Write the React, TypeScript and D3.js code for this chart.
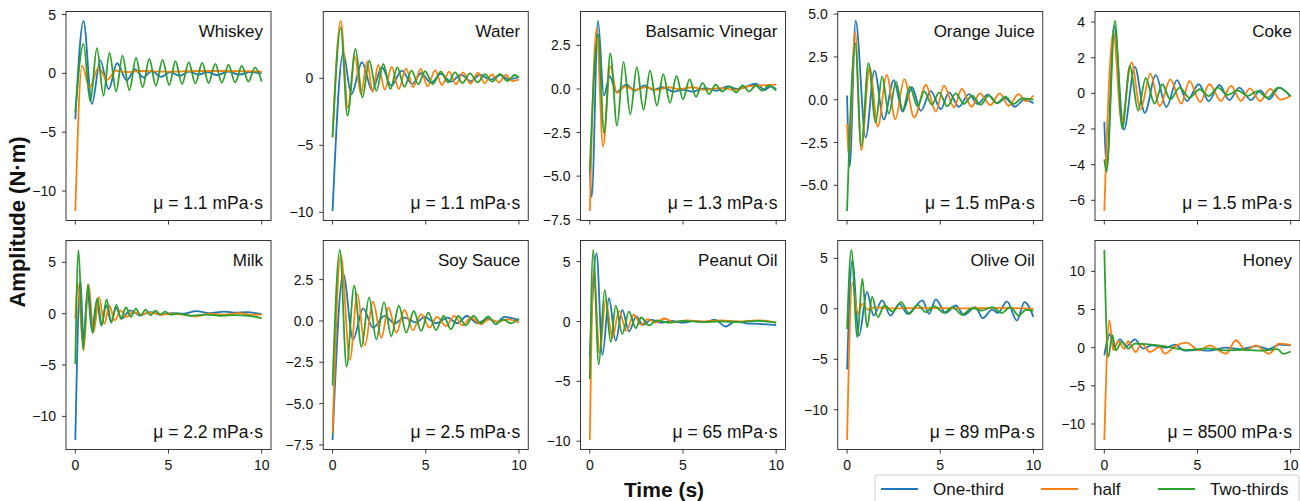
import React from "react";
import * as d3 from "d3";

type Pt = [number, number];

// series colours / names (matplotlib tab10)
const seriesNames = ["One-third", "half", "Two-thirds"];
const seriesColors = ["#1f77b4", "#ff7f0e", "#2ca02c"];
const xTicks = [0, 5, 10];

// [time, amplitude] turning points
const whiskeyOneThird: Pt[] = [[0,-3.9],[0.44,4.45],[0.89,-2.6],[1.34,1.1],[1.79,-1.35],[2.24,0.86],[2.76,-0.6],[3.2,0.35],[3.65,-0.35],[4.1,0.2],[4.6,-0.3],[5.1,0.1],[5.6,-0.2],[6.1,0.15],[6.6,-0.1],[7.1,0.1],[7.6,-0.15],[8.2,0.15],[8.8,-0.1],[9.4,0.1],[10,0.0]];
const whiskeyHalf: Pt[] = [[0,-11.7],[0.36,0.66],[0.77,-1.2],[1.25,0.5],[1.69,-0.57],[2.19,0.23],[2.7,0.1],[3.5,0.2],[5,0.15],[6.5,0.2],[8,0.2],[10,0.15]];
const whiskeyTwoThirds: Pt[] = [[0,-3.3],[0.44,2.5],[0.8,-2.4],[1.16,2.14],[1.51,-1.9],[1.83,1.74],[2.19,-1.54],[2.53,1.51],[2.9,-1.43],[3.26,1.31],[3.61,-1.2],[3.97,1.23],[4.32,-1.06],[4.68,1.14],[5.04,-1.0],[5.37,1.03],[5.73,-0.91],[6.09,0.94],[6.44,-0.86],[6.81,0.89],[7.15,-0.83],[7.51,0.8],[7.86,-0.8],[8.22,0.71],[8.58,-0.77],[8.93,0.63],[9.29,-0.71],[9.64,0.51],[10,-0.69]];

const waterOneThird: Pt[] = [[0,-9.9],[0.57,1.9],[1.01,-1.18],[1.58,1.2],[2.12,-0.88],[2.65,0.83],[3.15,-0.55],[3.72,0.58],[4.27,-0.43],[4.75,0.38],[5.28,-0.33],[5.82,0.33],[6.35,-0.25],[6.89,0.28],[7.42,-0.22],[7.92,0.28],[8.45,-0.12],[8.99,0.25],[9.47,-0.08],[10,0.1]];
const waterHalf: Pt[] = [[0,-4.4],[0.44,4.28],[0.82,-2.2],[1.2,1.6],[1.52,-1.2],[1.85,1.25],[2.15,-1.0],[2.45,1.0],[2.8,-0.85],[3.17,0.85],[3.55,-0.8],[3.94,0.75],[4.33,-0.65],[4.72,0.7],[5.1,-0.6],[5.5,0.6],[5.87,-0.5],[6.25,0.5],[6.62,-0.45],[7.0,0.45],[7.4,-0.4],[7.8,0.4],[8.17,-0.35],[8.55,0.3],[8.92,-0.3],[9.3,0.25],[9.65,-0.2],[10,-0.1]];
const waterTwoThirds: Pt[] = [[0,-4.4],[0.44,3.78],[0.8,-2.8],[1.23,2.2],[1.6,-1.43],[1.97,1.32],[2.35,-0.93],[2.72,1.07],[3.1,-0.8],[3.47,0.82],[3.85,-0.63],[4.24,0.57],[4.6,-0.45],[4.96,0.53],[5.38,-0.43],[5.8,0.5],[6.2,-0.3],[6.57,0.45],[6.97,-0.35],[7.37,0.37],[7.78,-0.3],[8.18,0.32],[8.58,-0.25],[8.98,0.32],[9.38,-0.2],[9.79,0.25],[10,0.05]];

const balsamicOneThird: Pt[] = [[0,-4.6],[0.1,-6.2],[0.44,3.9],[0.75,-0.37],[1.07,0.73],[1.42,-0.17],[1.96,0.25],[2.4,-0.1],[2.94,0.2],[3.4,-0.05],[3.9,0.1],[4.5,-0.15],[5.0,-0.05],[5.5,-0.15],[6.2,0.05],[6.8,-0.1],[7.4,0.15],[7.9,0.0],[8.3,0.1],[8.9,0.3],[9.4,-0.05],[9.7,0.15],[10,0.0]];
const balsamicHalf: Pt[] = [[0,-7.0],[0.36,3.48],[0.71,-3.3],[1.1,1.3],[1.46,-0.23],[1.9,0.15],[2.4,-0.05],[3.0,0.1],[3.6,-0.05],[4.2,0.1],[4.8,0.0],[5.5,0.1],[6.2,-0.05],[7.0,0.05],[7.8,-0.05],[8.5,0.15],[9.2,0.2],[10,0.25]];
const balsamicTwoThirds: Pt[] = [[0,-4.6],[0.44,3.13],[0.77,-2.54],[1.1,2.04],[1.46,-2.1],[1.81,1.56],[2.17,-1.45],[2.52,1.25],[2.88,-1.2],[3.23,1.05],[3.6,-0.95],[3.94,0.85],[4.3,-0.8],[4.65,0.75],[5.0,-0.6],[5.35,0.55],[5.7,-0.45],[6.05,0.35],[6.4,-0.3],[6.75,0.25],[7.1,-0.15],[7.5,0.15],[7.85,-0.2],[8.2,0.2],[8.55,-0.15],[8.9,0.2],[9.25,-0.1],[9.6,0.2],[10,-0.1]];

const ojOneThird: Pt[] = [[0,0.25],[0.14,-3.9],[0.46,4.6],[1.0,-2.2],[1.47,1.7],[1.97,-1.15],[2.5,1.15],[2.98,-0.7],[3.48,0.73],[3.96,-0.65],[4.49,0.5],[5.03,-0.55],[5.47,0.43],[6.0,-0.41],[6.54,0.33],[7.0,-0.25],[7.55,0.3],[8.05,-0.2],[8.5,0.08],[9.0,-0.41],[9.5,0.0],[10,-0.2]];
const ojHalf: Pt[] = [[0,-1.4],[0.09,-3.2],[0.43,3.96],[0.76,-2.96],[1.21,1.9],[1.65,-1.57],[2.13,1.45],[2.59,-1.14],[3.07,1.2],[3.6,-1.04],[4.23,0.86],[4.76,-0.69],[5.2,0.82],[5.74,-0.45],[6.15,0.63],[6.68,-0.41],[7.12,0.37],[7.69,-0.31],[8.19,0.37],[8.67,-0.35],[9.2,0.33],[9.6,-0.1],[10,0.25]];
const ojTwoThirds: Pt[] = [[0,-6.5],[0.44,3.27],[0.76,-2.7],[1.15,2.14],[1.53,-1.33],[1.88,1.35],[2.24,-0.8],[2.63,1.06],[2.98,-0.6],[3.37,0.76],[3.78,-0.39],[4.14,0.49],[4.55,-0.29],[4.94,0.43],[5.38,-0.39],[5.83,0.37],[6.27,-0.25],[6.71,0.24],[7.16,-0.29],[7.6,0.24],[8.05,-0.2],[8.49,0.18],[8.93,-0.25],[9.38,0.08],[10,0.0]];

const cokeOneThird: Pt[] = [[0,-1.6],[0.12,-4.2],[0.52,3.8],[1.05,-2.04],[1.64,1.49],[2.17,-1.09],[2.76,1.02],[3.33,-0.77],[3.9,0.74],[4.43,-0.43],[5.07,0.51],[5.6,-0.43],[6.17,0.47],[6.71,-0.38],[7.24,0.32],[7.86,-0.38],[8.36,0.17],[8.84,-0.34],[9.38,0.32],[10,-0.2]];
const cokeHalf: Pt[] = [[0,-6.6],[0.48,3.43],[0.93,-1.6],[1.46,1.74],[1.94,-0.91],[2.47,1.11],[2.97,-0.72],[3.54,0.79],[4.13,-0.58],[4.57,0.7],[5.14,-0.49],[5.64,0.51],[6.26,-0.43],[6.8,0.42],[7.33,-0.43],[7.81,0.28],[8.36,-0.43],[8.9,0.25],[9.45,-0.35],[10,-0.15]];
const cokeTwoThirds: Pt[] = [[0,-3.7],[0.12,-4.4],[0.57,4.06],[0.96,-1.98],[1.37,1.55],[1.81,-0.96],[2.22,0.85],[2.7,-0.58],[3.11,0.51],[3.54,-0.34],[4.04,0.32],[4.57,-0.25],[5.11,0.23],[5.6,-0.15],[6.09,0.32],[6.62,-0.09],[7.15,0.17],[7.69,-0.15],[8.22,0.13],[8.75,-0.25],[9.34,0.32],[10,-0.15]];

const milkOneThird: Pt[] = [[0,-12.3],[0.27,3.28],[0.44,-2.46],[0.66,2.13],[0.89,-1.64],[1.16,1.31],[1.39,-1.15],[1.65,0.82],[1.92,-0.75],[2.19,0.56],[2.49,-0.49],[2.94,0.33],[3.47,-0.16],[4.0,0.15],[4.6,-0.1],[5.2,0.05],[5.8,0.0],[6.5,0.25],[7.2,0.05],[8.0,0.2],[8.6,0.1],[9.2,0.15],[10,-0.05]];
const milkHalf: Pt[] = [[0,-0.5],[0.12,3.0],[0.44,-3.6],[0.71,2.85],[0.98,-1.8],[1.28,1.64],[1.55,-1.0],[1.83,0.75],[2.12,-0.65],[2.42,0.33],[2.74,-0.33],[3.1,0.2],[3.5,-0.1],[4.0,0.1],[4.6,-0.1],[5.2,0.0],[5.8,-0.1],[6.5,-0.25],[7.2,0.0],[8.0,-0.1],[8.8,0.05],[9.4,-0.1],[10,-0.1]];
const milkTwoThirds: Pt[] = [[0,-4.9],[0.17,6.2],[0.42,-3.5],[0.68,2.85],[0.92,-1.9],[1.18,1.5],[1.42,-1.1],[1.68,1.4],[1.93,-0.9],[2.2,0.85],[2.45,-0.5],[2.72,0.6],[2.98,-0.3],[3.25,0.5],[3.5,-0.2],[3.77,0.4],[4.03,-0.15],[4.3,0.3],[4.55,-0.1],[4.82,0.2],[5.1,-0.1],[5.5,0.0],[6.2,-0.2],[7.0,-0.1],[7.8,-0.2],[8.6,-0.15],[9.3,-0.2],[10,-0.45]];

const soyOneThird: Pt[] = [[0,-7.2],[0.57,2.86],[1.1,-1.12],[1.64,0.76],[2.17,-0.41],[2.79,0.31],[3.33,-0.14],[3.86,0.2],[4.48,-0.1],[4.93,0.24],[5.55,-0.14],[6.17,0.2],[6.7,-0.14],[7.2,0.3],[7.78,-0.14],[8.3,0.14],[8.84,-0.06],[9.2,0.24],[10,0.05]];
const soyHalf: Pt[] = [[0,-6.8],[0.44,4.0],[0.93,-2.35],[1.33,1.63],[1.73,-1.49],[2.17,1.16],[2.62,-1.02],[3.0,0.82],[3.42,-0.71],[3.86,0.67],[4.31,-0.57],[4.75,0.41],[5.2,-0.41],[5.6,0.24],[6.09,-0.31],[6.53,0.31],[6.98,-0.27],[7.42,0.2],[7.95,-0.2],[8.4,0.1],[8.9,-0.05],[9.4,0.1],[10,-0.1]];
const soyTwoThirds: Pt[] = [[0,-3.9],[0.39,4.29],[0.75,-2.76],[1.16,2.14],[1.55,-1.57],[1.96,1.43],[2.35,-1.12],[2.76,1.12],[3.15,-0.92],[3.56,0.92],[3.95,-0.71],[4.36,0.6],[4.75,-0.6],[5.14,0.5],[5.55,-0.55],[5.96,0.3],[6.35,-0.5],[6.74,0.3],[7.15,-0.27],[7.56,0.3],[7.95,-0.14],[8.35,0.27],[8.75,-0.2],[9.15,0.1],[9.55,-0.14],[10,0.14]];

const peanutOneThird: Pt[] = [[0,-3.0],[0.36,5.7],[0.68,-2.78],[1.03,1.94],[1.39,-1.61],[1.74,0.97],[2.1,-0.83],[2.49,0.42],[2.85,-0.28],[3.3,0.15],[3.8,-0.1],[4.4,0.05],[5.0,-0.1],[5.6,0.05],[6.2,-0.05],[6.7,0.15],[7.3,-0.42],[7.8,0.0],[8.4,-0.15],[9.0,-0.2],[9.5,-0.25],[10,-0.3]];
const peanutHalf: Pt[] = [[0,-9.9],[0.21,4.17],[0.53,-2.64],[0.85,1.8],[1.21,-1.39],[1.57,0.89],[1.96,-0.78],[2.35,0.56],[2.76,-0.28],[3.1,0.2],[3.52,-0.1],[4.0,0.25],[4.5,-0.05],[5.2,0.1],[6.0,0.0],[7.0,0.1],[8.0,0.0],[9.0,0.1],[10,-0.1]];
const peanutTwoThirds: Pt[] = [[0,-4.8],[0.18,5.97],[0.48,-3.61],[0.8,2.64],[1.12,-1.72],[1.39,1.33],[1.74,-1.06],[2.1,0.83],[2.46,-0.56],[2.76,0.33],[3.17,-0.33],[3.6,0.1],[4.2,-0.1],[5.0,0.05],[6.0,-0.05],[7.0,0.0],[8.0,-0.05],[9.0,0.05],[10,-0.1]];

const oliveOneThird: Pt[] = [[0,-6.0],[0.28,4.83],[0.64,-2.67],[1.07,1.67],[1.42,-0.67],[1.88,0.83],[2.33,-0.67],[2.81,0.5],[3.25,-0.5],[4.05,0.83],[4.4,-0.5],[4.76,0.93],[5.29,-0.4],[5.83,0.33],[6.27,-0.6],[6.89,0.17],[7.28,-0.93],[7.78,-0.07],[8.1,-0.4],[8.58,0.73],[9.11,-1.17],[9.52,0.67],[10,-0.8]];
const oliveHalf: Pt[] = [[0,-13.0],[0.28,2.57],[0.59,-0.5],[0.82,0.5],[1.1,-0.07],[1.5,0.15],[2.5,0.05],[4,0.1],[6,0.05],[8,0.1],[10,0.0]];
const oliveTwoThirds: Pt[] = [[0,-2.0],[0.23,5.83],[0.55,-2.83],[0.82,3.0],[1.07,-1.83],[1.35,1.17],[1.65,-0.83],[2.0,0.33],[2.45,-0.27],[2.9,0.67],[3.34,-0.5],[3.78,0.4],[4.23,-0.33],[4.67,0.27],[5.2,-0.4],[5.65,0.17],[6.18,-0.6],[6.71,0.07],[7.25,-0.17],[7.78,0.17],[8.31,-0.4],[8.76,0.17],[9.2,-0.67],[9.6,-0.1],[10,-0.2]];

const honeyOneThird: Pt[] = [[0,-1.0],[0.3,1.76],[0.52,0.09],[0.84,1.1],[1.19,0.18],[1.64,1.1],[2.08,-0.13],[2.53,0.31],[3.3,0.0],[3.8,0.4],[4.3,-0.4],[5.0,-0.3],[5.6,-0.4],[6.5,0.0],[7.3,-0.2],[8.2,0.2],[8.8,-0.2],[9.4,0.4],[10,0.3]];
const honeyHalf: Pt[] = [[0,-12.1],[0.27,3.61],[0.48,-0.35],[0.75,0.84],[1.05,-0.13],[1.28,0.84],[1.69,-0.57],[1.99,0.53],[2.44,-0.57],[2.97,0.09],[3.24,-0.79],[3.8,0.2],[4.4,0.66],[5.1,-0.35],[5.64,0.3],[6.53,-0.79],[7.06,0.97],[7.6,-0.35],[8.13,0.3],[8.84,-0.79],[9.38,0.53],[10,0.35]];
const honeyTwoThirds: Pt[] = [[0,12.8],[0.21,-1.23],[0.43,1.63],[0.62,-0.35],[0.93,0.75],[1.28,-0.13],[1.64,0.53],[2.5,0.4],[3.2,0.2],[4.5,-0.3],[5.5,-0.1],[6.5,-0.35],[7.5,-0.3],[8.5,-0.4],[9.3,-0.2],[9.6,-0.8],[10,-0.5]];

const liquidNames = ["Whiskey", "Water", "Balsamic Vinegar", "Orange Juice", "Coke", "Milk", "Soy Sauce", "Peanut Oil", "Olive Oil", "Honey"];
const viscosities = ["1.1", "1.1", "1.3", "1.5", "1.5", "2.2", "2.5", "65", "89", "8500"];
const yTickSets = [
  [-10, -5, 0, 5],
  [-10, -5, 0],
  [-7.5, -5, -2.5, 0, 2.5],
  [-5, -2.5, 0, 2.5, 5],
  [-6, -4, -2, 0, 2, 4],
  [-10, -5, 0, 5],
  [-7.5, -5, -2.5, 0, 2.5],
  [-10, -5, 0, 5],
  [-10, -5, 0, 5],
  [-10, -5, 0, 5, 10],
];
const yTickDecimals = [0, 0, 1, 1, 0, 0, 1, 0, 0, 0];
const panelSeries: Pt[][][] = [
  [whiskeyOneThird, whiskeyHalf, whiskeyTwoThirds],
  [waterOneThird, waterHalf, waterTwoThirds],
  [balsamicOneThird, balsamicHalf, balsamicTwoThirds],
  [ojOneThird, ojHalf, ojTwoThirds],
  [cokeOneThird, cokeHalf, cokeTwoThirds],
  [milkOneThird, milkHalf, milkTwoThirds],
  [soyOneThird, soyHalf, soyTwoThirds],
  [peanutOneThird, peanutHalf, peanutTwoThirds],
  [oliveOneThird, oliveHalf, oliveTwoThirds],
  [honeyOneThird, honeyHalf, honeyTwoThirds],
];

const W = 1300, H = 501;
const colLeft0 = 66, colStep = 257.25, panelW = 205;
const rowTops = [11.5, 240.5], panelH = 209;
const font = "'Liberation Sans', Arial, Helvetica, sans-serif";
const fmtTick = (v: number, dec: number) => {
  const s = Math.abs(v).toFixed(dec);
  return v < 0 ? "\u2212" + s : s;
};

function Panel({ idx }: { idx: number }) {
  const col = idx % 5, row = Math.floor(idx / 5);
  const left = colLeft0 + col * colStep;
  const top = rowTops[row];
  const series = panelSeries[idx];
  const all = series.flat().map(d => d[1]);
  const [lo, hi] = d3.extent(all) as [number, number];
  const pad = (hi - lo) * 0.05;
  const x = d3.scaleLinear().domain([-0.5, 10.5]).range([left, left + panelW]);
  const y = d3.scaleLinear().domain([lo - pad, hi + pad]).range([top + panelH, top]);
  const line = d3.line<Pt>().x(d => x(d[0])).y(d => y(d[1])).curve(d3.curveMonotoneX);
  const yt = yTickSets[idx].filter(v => v >= lo - pad && v <= hi + pad);
  const clipId = `clip${idx}`;
  return (
    <g>
      <defs>
        <clipPath id={clipId}>
          <rect x={left} y={top} width={panelW} height={panelH} />
        </clipPath>
      </defs>
      <g clipPath={`url(#${clipId})`}>
        {series.map((s, i) => (
          <path key={i} d={line(s) || ""} fill="none" stroke={seriesColors[i]} strokeWidth={1.8} strokeLinejoin="round" />
        ))}
      </g>
      <rect x={left} y={top} width={panelW} height={panelH} fill="none" stroke="#222" strokeWidth={0.9} />
      {yt.map(v => (
        <g key={v}>
          <line x1={left - 4} x2={left} y1={y(v)} y2={y(v)} stroke="#222" strokeWidth={0.9} />
          <text x={left - 10} y={y(v)} dy="0.36em" textAnchor="end" fontSize={14} fontFamily={font} fill="#111">
            {fmtTick(v, yTickDecimals[idx])}
          </text>
        </g>
      ))}
      {xTicks.map(v => (
        <g key={v}>
          <line x1={x(v)} x2={x(v)} y1={top + panelH} y2={top + panelH + 4} stroke="#222" strokeWidth={0.9} />
          {row === 1 && (
            <text x={x(v)} y={top + panelH + 20} textAnchor="middle" fontSize={14} fontFamily={font} fill="#111">
              {v}
            </text>
          )}
        </g>
      ))}
      <text x={left + panelW - 8} y={top + 25} textAnchor="end" fontSize={17} fontFamily={font} fill="#111">
        {liquidNames[idx]}
      </text>
      <text x={left + panelW - 8} y={top + panelH - 12} textAnchor="end" fontSize={17.5} fontFamily={font} fill="#111">
        {`\u03bc = ${viscosities[idx]} mPa\u00b7s`}
      </text>
    </g>
  );
}

const legendX = [881, 1041, 1158];

export default function App() {
  return (
    <svg width={W} height={H} style={{ position: "absolute", left: 0, top: 0, background: "#fff" }}>
      {liquidNames.map((_, i) => <Panel key={i} idx={i} />)}
      <text transform="translate(25,222) rotate(-90)" textAnchor="middle" fontSize={22} fontWeight="bold" fontFamily={font} fill="#111">
        Amplitude (N·m)
      </text>
      <text x={664} y={497} textAnchor="middle" fontSize={21} fontWeight="bold" fontFamily={font} fill="#111">
        Time (s)
      </text>
      <rect x={875} y={475} width={424} height={40} rx={3} fill="#fff" stroke="#ccc" strokeWidth={1} />
      {seriesNames.map((n, i) => (
        <g key={n}>
          <line x1={legendX[i]} x2={legendX[i] + 37} y1={489} y2={489} stroke={seriesColors[i]} strokeWidth={1.8} />
          <text x={legendX[i] + 52} y={495} fontSize={17} fontFamily={font} fill="#111">{n}</text>
        </g>
      ))}
    </svg>
  );
}
